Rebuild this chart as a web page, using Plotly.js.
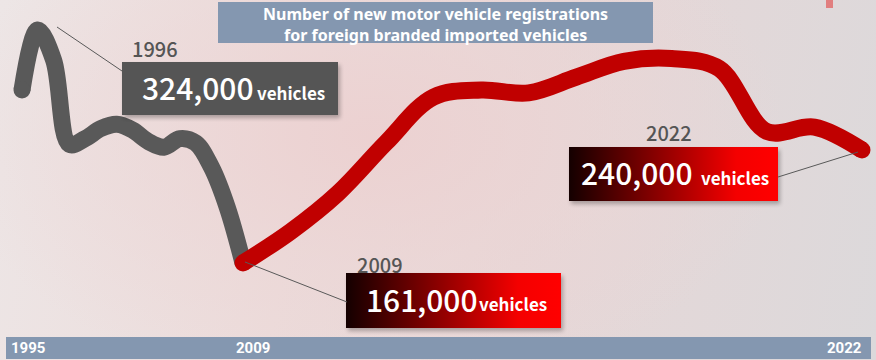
<!DOCTYPE html>
<html><head><meta charset="utf-8">
<script src="https://cdn.plot.ly/plotly-3.0.1.min.js"></script>
<style>
html,body{margin:0;padding:0;background:#fff;}
#chart{width:876px;height:360px;
background:
 radial-gradient(ellipse 420px 260px at 42% 38%, rgba(236,208,208,0.9) 0%, rgba(236,212,212,0.5) 50%, rgba(236,214,214,0) 100%),
 linear-gradient(100deg, #ede6e6 0%, #ecdcdb 35%, #e7d7d7 60%, #dcd9db 100%);}
</style></head><body><div id="chart"></div>
<script>
// ---- data ----
const grayYears  = [1995,1996,1997,1998,1999,2000,2001,2002,2003,2004,2005,2006,2007,2008,2009];
const grayValues = [282, 324, 303, 244, 248, 255, 258, 254, 246, 242, 248, 245, 228, 200, 161]; // thousand vehicles
const redYears   = [2009,2010,2011,2012,2013,2014,2015,2016,2017,2018,2019,2020,2021,2022];
const redValues  = [161, 183, 210, 245, 277, 282, 280, 291, 302, 304, 297, 253, 256, 240];
const axisLabels = ['1995','2009','2022'];
const calloutYears = ['1996','2009','2022'];
const titleLines = ['Number of new motor vehicle registrations','for foreign branded imported vehicles'];
const unitLabel = 'vehicles';

// ---- helpers ----
const W = 876, H = 360;
const px = x => x / W, py = y => 1 - y / H;
const fmt = v => (v * 1000).toLocaleString('en-US');
const calloutValues = [grayValues[1], redValues[0], redValues[redValues.length - 1]];

const endMarker = (n, first, last) => Array.from({length:n}, (_, i) => ((first && i === 0) || (last && i === n - 1)) ? 17 : 0);

const traces = [
  {x: grayYears, y: grayValues, xaxis:'x', yaxis:'y', mode:'lines+markers', hoverinfo:'skip',
   line:{color:'#595959', width:17, shape:'spline', smoothing:1},
   marker:{color:'#595959', opacity:1, size:endMarker(grayYears.length, true, false), line:{width:0}}},
  {x: redYears, y: redValues, xaxis:'x2', yaxis:'y', mode:'lines+markers', hoverinfo:'skip',
   line:{color:'#c00000', width:17, shape:'spline', smoothing:1},
   marker:{color:'#c00000', opacity:1, size:endMarker(redYears.length, true, true), line:{width:0}}}
];

function boxImage(bx, by, w, h, fill) {
  const grad = '<linearGradient id="g" x1="0" x2="1" y1="0" y2="0"><stop offset="0" stop-color="#140000"/><stop offset="0.8" stop-color="#f40000"/><stop offset="1" stop-color="#ff0000"/></linearGradient>';
  const svg = `<svg xmlns="http://www.w3.org/2000/svg" width="${w+10}" height="${h+10}" viewBox="0 0 ${w+10} ${h+10}"><defs>${grad}<filter id="s" x="-20%" y="-30%" width="140%" height="160%"><feGaussianBlur stdDeviation="2"/></filter></defs><rect x="4" y="5" width="${w}" height="${h}" fill="#000" opacity="0.28" filter="url(#s)"/><rect x="2" y="2" width="${w}" height="${h}" fill="${fill}"/></svg>`;
  return {source:'data:image/svg+xml;charset=utf-8,' + encodeURIComponent(svg),
    xref:'paper', yref:'paper', x:px(bx-2), y:py(by-2), sizex:(w+10)/W, sizey:(h+10)/H,
    xanchor:'left', yanchor:'top', sizing:'stretch', layer:'above'};
}

const white = '#ffffff';
function ann(text, x, y, font, xanchor) {
  return {text, xref:'paper', yref:'paper', x:px(x), y:py(y), xanchor:xanchor||'left', yanchor:'middle',
    showarrow:false, font, borderpad:0};
}
const JP = 'Noto Sans CJK JP, Noto Sans, sans-serif';
const numFont = {family:JP, size:30, color:white, weight:500};
const unitFont = {family:JP, size:17, color:white, weight:'bold'};
const yearFont = {family:JP, size:20, color:'#555555', weight:500};
const axFont = {family:'Roboto, Liberation Sans, sans-serif', size:15, color:white, weight:'bold'};
const titleFont = {family:'Noto Sans, Open Sans, sans-serif', size:16, color:white, weight:'bold'};

const annotations = [
  ann(titleLines[0], 435.5, 14, titleFont, 'center'),
  ann(titleLines[1], 435.5, 34.5, titleFont, 'center'),
  ann(calloutYears[0], 131, 48.5, yearFont),
  ann(fmt(calloutValues[0]), 141, 87, numFont),
  ann(unitLabel, 256, 93, unitFont),
  ann(calloutYears[1], 356, 264.5, yearFont),
  ann(fmt(calloutValues[1]), 365, 299, numFont),
  ann(unitLabel, 478, 303, unitFont),
  ann(calloutYears[2], 645, 132.5, yearFont),
  ann(fmt(calloutValues[2]), 580, 172, numFont),
  ann(unitLabel, 700, 177, unitFont),
  ann(axisLabels[0], 10, 348, axFont),
  ann(axisLabels[1], 235, 348, axFont),
  ann(axisLabels[2], 826, 348, axFont)
];

const lineStyle = {color:'#595959', width:1};
const shapes = [
  {type:'rect', xref:'paper', yref:'paper', x0:px(218), x1:px(653), y0:py(2), y1:py(43), fillcolor:'#8497b0', line:{width:0}, layer:'below'},
  {type:'rect', xref:'paper', yref:'paper', x0:px(6), x1:px(871), y0:py(337), y1:py(359), fillcolor:'#8497b0', line:{width:0}, layer:'below'},
  {type:'rect', xref:'paper', yref:'paper', x0:px(826), x1:px(833), y0:py(0), y1:py(8), fillcolor:'rgba(226,96,96,0.75)', line:{width:0}, layer:'below'},
  {type:'line', xref:'paper', yref:'paper', x0:px(57), y0:py(27), x1:px(122), y1:py(71), line:lineStyle},
  {type:'line', xref:'paper', yref:'paper', x0:px(245), y0:py(262), x1:px(347), y1:py(302), line:lineStyle},
  {type:'line', xref:'paper', yref:'paper', x0:px(858), y0:py(152), x1:px(778), y1:py(177), line:lineStyle}
];

const images = [
  boxImage(122, 62, 216, 53, '#555555'),
  boxImage(346, 273, 215, 55, 'url(#g)'),
  boxImage(569, 147, 209, 54, 'url(#g)')
];

const layout = {
  width:W, height:H, margin:{l:0, r:0, t:0, b:0}, showlegend:false,
  paper_bgcolor:'rgba(0,0,0,0)', plot_bgcolor:'rgba(0,0,0,0)',
  xaxis:{domain:[0,1], range:[1993.6063, 2049.100], visible:false, fixedrange:true},
  xaxis2:{domain:[0,1], range:[2003.8966, 2022.2940], visible:false, anchor:'y', overlaying:'x', fixedrange:true},
  yaxis:{domain:[0,1], range:[93.17, 344.92], visible:false, fixedrange:true},
  shapes, annotations, images
};

Plotly.newPlot('chart', traces, layout, {displayModeBar:false, staticPlot:true});
</script></body></html>
